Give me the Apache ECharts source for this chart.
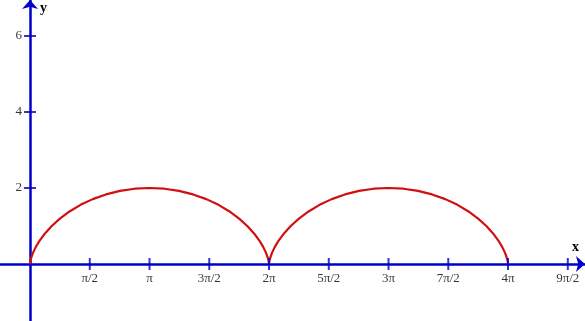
<!DOCTYPE html>
<html><head><meta charset="utf-8">
<script src="https://cdn.jsdelivr.net/npm/echarts@6/dist/echarts.min.js"></script>
<style>html,body{margin:0;padding:0;background:#fff}#c{width:585px;height:321px}</style>
</head><body><div id="c"></div>
<script>
// Curve points (x in radians, y)
var curveX = [0,0.001,0.010,0.033,0.078,0.150,0.254,0.394,0.571,0.786,1.040,1.328,1.649,1.997,2.366,2.750,3.142,
  3.533,3.917,4.286,4.634,4.955,5.244,5.497,5.712,5.890,6.029,6.133,6.205,6.250,6.273,6.282,6.283,
  6.284,6.293,6.317,6.361,6.433,6.537,6.677,6.854,7.070,7.323,7.612,7.932,8.280,8.649,9.033,9.425,
  9.816,10.200,10.569,10.917,11.238,11.527,11.780,11.996,12.173,12.312,12.416,12.488,12.533,12.556,12.565,12.566];
var curveY = [0,0.019,0.076,0.169,0.293,0.444,0.617,0.805,1.000,1.195,1.383,1.556,1.707,1.831,1.924,1.981,2.000,
  1.981,1.924,1.831,1.707,1.556,1.383,1.195,1.000,0.805,0.617,0.444,0.293,0.169,0.076,0.019,0,
  0.019,0.076,0.169,0.293,0.444,0.617,0.805,1.000,1.195,1.383,1.556,1.707,1.831,1.924,1.981,2.000,
  1.981,1.924,1.831,1.707,1.556,1.383,1.195,1.000,0.805,0.617,0.444,0.293,0.169,0.076,0.019,0];
var xTickValues = [1.5708,3.1416,4.7124,6.2832,7.8540,9.4248,10.9956,12.5664,14.1372];
var xTickLabels = ['π/2','π','3π/2','2π','5π/2','3π','7π/2','4π','9π/2'];
var yTickValues = [2,4,6];
var yTickLabels = ['2','4','6'];

var AX = '#0000c8', RED = '#d01010';
var curve = curveX.map(function(x,i){return [x,curveY[i]];});
var xt = xTickValues.map(function(v,i){return {value:[v,0],name:xTickLabels[i]};});
var yt = yTickValues.map(function(v,i){return {value:[0,v],name:yTickLabels[i]};});
var font = '"Liberation Serif","Times New Roman",serif';

var chart = echarts.init(document.getElementById('c'));
chart.setOption({
  animation:false,
  grid:{left:0,right:0,top:0,bottom:0,containLabel:false,outerBoundsMode:'none'},
  xAxis:{type:'value',min:-0.789,max:14.59,splitLine:{show:false},
    axisLine:{onZero:true,lineStyle:{color:AX,width:2.5},symbol:['none','arrow'],symbolSize:[12,9]},
    axisTick:{show:false},axisLabel:{show:false}},
  yAxis:{type:'value',min:-1.5,max:6.947,splitLine:{show:false},
    axisLine:{onZero:true,lineStyle:{color:AX,width:2.5},symbol:['none','arrow'],symbolSize:[12,9]},
    axisTick:{show:false},axisLabel:{show:false}},
  graphic:[
    {type:'text',left:572,top:240,style:{text:'x',font:'bold 14px '+font,fill:'#000'}},
    {type:'text',left:40,top:1,style:{text:'y',font:'bold 14px '+font,fill:'#000'}}
  ],
  series:[
    {type:'line',data:curve,showSymbol:false,smooth:false,lineStyle:{color:RED,width:2.2},z:3},
    {type:'scatter',data:xt,symbol:'rect',symbolSize:[2,12],itemStyle:{color:AX},silent:true,z:4,
      label:{show:true,position:'bottom',distance:2,formatter:'{b}',color:'#000',fontFamily:font,fontSize:13}},
    {type:'scatter',data:yt,symbol:'rect',symbolSize:[12,2],itemStyle:{color:AX},silent:true,z:4,
      label:{show:true,position:'left',distance:2,formatter:'{b}',color:'#000',fontFamily:font,fontSize:13}}
  ]
});
</script></body></html>
